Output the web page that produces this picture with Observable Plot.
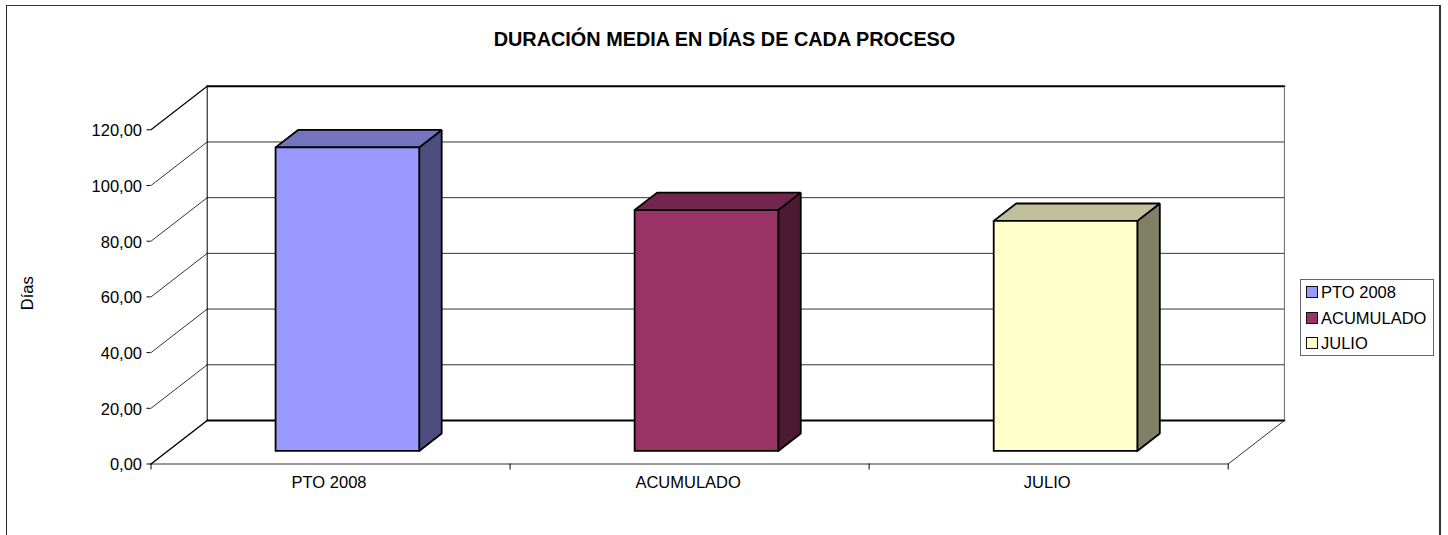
<!DOCTYPE html>
<html lang="es">
<head>
<meta charset="utf-8">
<script src="https://cdn.jsdelivr.net/npm/d3@7"></script>
<script src="https://cdn.jsdelivr.net/npm/@observablehq/plot@0.6"></script>
<style>
  html, body { margin: 0; padding: 0; background: #fff; overflow: hidden; }
  #chart { position: relative; width: 1448px; height: 535px; font-family: "Liberation Sans", Arial, sans-serif; color: #000; }
  #chart svg { position: absolute; left: 0; top: 0; background: transparent; }
  #frame { position: absolute; left: 6px; top: 5px; width: 1435px; height: 540px; box-sizing: border-box;
           border-left: 1.2px solid #222; border-top: 1.5px solid #333; border-right: 2px solid #333; }
  #title { position: absolute; left: 424.5px; width: 600px; top: 28px; text-align: center; font-weight: bold; font-size: 19.85px; line-height: 22px; white-space: nowrap; }
  #legend { position: absolute; left: 1300px; top: 279px; width: 133.5px; height: 77px; box-sizing: border-box; border: 1px solid #666; background: #fff; }
  .row { position: absolute; left: 5px; height: 20px; line-height: 20px; font-size: 16.5px; white-space: nowrap; }
  .row i { position: absolute; left: 0; top: 4px; width: 12px; height: 12px; box-sizing: border-box; border: 1.5px solid #111; }
  .row span { position: absolute; left: 15px; top: 0; }
</style>
</head>
<body>
<div id="chart">
  <div id="frame"></div>
  <div id="title">DURACIÓN MEDIA EN DÍAS DE CADA PROCESO</div>
  <div id="legend"></div>
</div>
<script>
const categories = ["PTO 2008", "ACUMULADO", "JULIO"];
const values = [109, 86.5, 82.6];
const frontColors = ["#9999FF", "#993366", "#FFFFCC"];
const topColors = ["#7373BF", "#73264D", "#BFBF99"];
const sideColors = ["#4D4D80", "#4D1A33", "#808066"];
const yTicks = [0, 20, 40, 60, 80, 100, 120];
const xBoundaries = [0, 1, 2, 3];

// Oblique projection: depth 0 is the front plane, depth 1 the back wall.
const depthX = 0.1565;   // category units per unit of depth
const depthY = 15.63;    // value units per unit of depth
const P = (c, v, d) => ({x: c + d * depthX, y: v + d * depthY});
const closed = pts => [...pts, pts[0]];

const barHalf = 0.2, depthNear = 0.3, depthFar = 0.7;
const face = {
  front: (c, v) => [P(c - barHalf, 0, depthNear), P(c + barHalf, 0, depthNear), P(c + barHalf, v, depthNear), P(c - barHalf, v, depthNear)],
  top: (c, v) => [P(c - barHalf, v, depthNear), P(c + barHalf, v, depthNear), P(c + barHalf, v, depthFar), P(c - barHalf, v, depthFar)],
  side: (c, v) => [P(c + barHalf, 0, depthNear), P(c + barHalf, 0, depthFar), P(c + barHalf, v, depthFar), P(c + barHalf, v, depthNear)]
};
const xMax = xBoundaries[xBoundaries.length - 1];
const yMax = yTicks[yTicks.length - 1];
const thin = 0.8;

const wallMarks = [
  // diagonals on the left wall and back-wall horizontals
  ...yTicks.map(v => Plot.line([P(0, v, 0), P(0, v, 1)], {
    x: "x", y: "y", stroke: "#000", strokeWidth: v === 0 ? 1.5 : v === yMax ? 1.2 : thin
  })),
  ...yTicks.map(v => Plot.line([P(0, v, 1), P(xMax, v, 1)], {
    x: "x", y: "y", stroke: "#000", strokeWidth: (v === 0 || v === yMax) ? 2 : thin
  })),
  Plot.line([P(0, 0, 1), P(0, yMax, 1)], {x: "x", y: "y", stroke: "#000", strokeWidth: 1}),
  Plot.line([P(xMax, 0, 1), P(xMax, yMax, 1)], {x: "x", y: "y", stroke: "#666", strokeWidth: 1}),
  Plot.line([P(0, 0, 0), P(xMax, 0, 0), P(xMax, 0, 1)], {x: "x", y: "y", stroke: "#000", strokeWidth: thin})
];

const barMarks = values.flatMap((v, i) => {
  const c = i + 0.5;
  return [
    [face.side(c, v), sideColors[i]],
    [face.top(c, v), topColors[i]],
    [face.front(c, v), frontColors[i]]
  ].map(([pts, fill]) => Plot.line(closed(pts), {
    x: "x", y: "y", fill, stroke: "#000", strokeWidth: 1.8, strokeLinejoin: "miter"
  }));
});

const fmt = d => d3.format(".2f")(d).replace(".", ",");

const plot = Plot.plot({
  width: 1448,
  height: 535,
  marginLeft: 150.5,
  marginRight: 220.3,
  marginTop: 129.3,
  marginBottom: 71.5,
  style: {fontFamily: "'Liberation Sans', Arial, sans-serif", fontSize: "16.5px", background: "transparent", color: "#000"},
  x: {domain: [0, xMax]},
  y: {domain: [0, yMax]},
  marks: [
    ...wallMarks,
    ...barMarks,
    Plot.axisY({ticks: yTicks, tickFormat: () => "", tickSize: 4, label: null, stroke: "#000", strokeOpacity: 1}),
    Plot.axisY({ticks: yTicks, tickFormat: fmt, tickSize: 0, tickPadding: 9, dy: 1.2, label: null}),
    Plot.axisX({ticks: xBoundaries, tickFormat: () => "", tickSize: 6, label: null, stroke: "#000", strokeOpacity: 1}),
    Plot.axisX({ticks: categories.map((_, i) => i + 0.5), tickFormat: d => categories[d - 0.5], tickSize: 0, tickPadding: 12.5, dx: -1.5, label: null}),
    Plot.text(["Días"], {frameAnchor: "left", textAnchor: "middle", dx: -123.5, dy: -3.7, rotate: -90, fontSize: 16.5, fill: "#000"})
  ]
});
document.getElementById("chart").insertBefore(plot, document.getElementById("title"));

const legend = document.getElementById("legend");
categories.forEach((name, i) => {
  const row = document.createElement("div");
  row.className = "row";
  row.style.top = (2 + i * 25.5) + "px";
  const sw = document.createElement("i");
  sw.style.background = frontColors[i];
  const label = document.createElement("span");
  label.textContent = name;
  row.append(sw, label);
  legend.append(row);
});
</script>
</body>
</html>
